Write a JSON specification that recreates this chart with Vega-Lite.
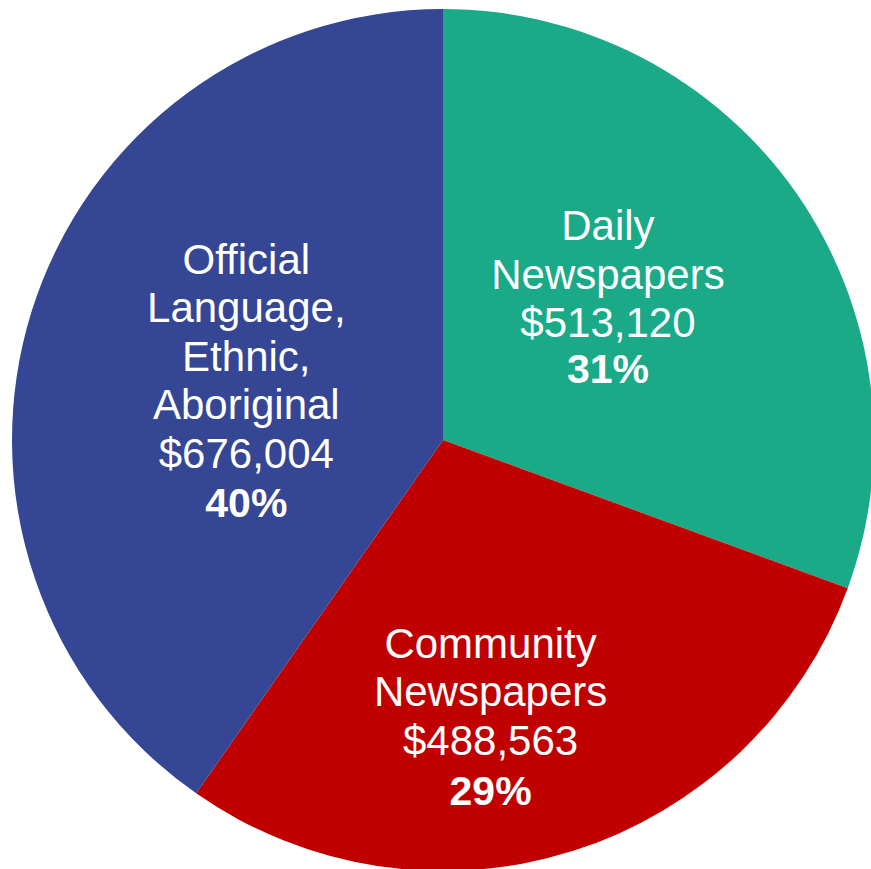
{
  "$schema": "https://vega.github.io/schema/vega-lite/v6.json",
  "width": 886,
  "height": 880,
  "autosize": "none",
  "padding": 0,
  "background": "white",
  "config": {"view": {"stroke": null}, "text": {"font": "Liberation Sans"}},
  "data": {
    "values": [
      {"category": "Daily Newspapers", "rank": 1, "value": 513120, "label": "Daily\nNewspapers\n\u00a0$513,120", "pct": "31%"},
      {"category": "Community Newspapers", "rank": 2, "value": 488563, "label": "Community\nNewspapers\n\u00a0$488,563", "pct": "29%"},
      {"category": "Official Language, Ethnic, Aboriginal", "rank": 3, "value": 676004, "label": "Official\nLanguage,\nEthnic,\nAboriginal\n\u00a0$676,004", "pct": "40%"}
    ]
  },
  "encoding": {
    "theta": {"field": "value", "type": "quantitative", "stack": true},
    "order": {"field": "rank", "type": "quantitative"},
    "detail": {"field": "category", "type": "nominal"}
  },
  "layer": [
    {
      "mark": {"type": "arc", "outerRadius": 431},
      "encoding": {
        "color": {
          "field": "category",
          "type": "nominal",
          "scale": {
            "domain": ["Daily Newspapers", "Community Newspapers", "Official Language, Ethnic, Aboriginal"],
            "range": ["#1AAA87", "#C00000", "#344694"]
          },
          "legend": null
        }
      }
    },
    {
      "mark": {"type": "text", "radius": 200, "dx": 1, "dy": -85, "fontSize": 42, "lineHeight": 48.5, "baseline": "alphabetic", "align": "center", "fill": "white", "lineBreak": "\n"},
      "encoding": {"text": {"condition": {"test": "datum.rank === 1", "field": "label", "type": "nominal"}, "value": ""}}
    },
    {
      "mark": {"type": "text", "radius": 200, "dx": 1, "dy": 58, "fontSize": 41, "baseline": "alphabetic", "align": "center", "fill": "white", "fontWeight": "bold"},
      "encoding": {"text": {"condition": {"test": "datum.rank === 1", "field": "pct", "type": "nominal"}, "value": ""}}
    },
    {
      "mark": {"type": "text", "radius": 325, "dx": -50, "dy": -92, "fontSize": 42, "lineHeight": 48.5, "baseline": "alphabetic", "align": "center", "fill": "white", "lineBreak": "\n"},
      "encoding": {"text": {"condition": {"test": "datum.rank === 2", "field": "label", "type": "nominal"}, "value": ""}}
    },
    {
      "mark": {"type": "text", "radius": 325, "dx": -50, "dy": 55, "fontSize": 41, "baseline": "alphabetic", "align": "center", "fill": "white", "fontWeight": "bold"},
      "encoding": {"text": {"condition": {"test": "datum.rank === 2", "field": "pct", "type": "nominal"}, "value": ""}}
    },
    {
      "mark": {"type": "text", "radius": 180, "dx": -25, "dy": -112, "fontSize": 42, "lineHeight": 48.5, "baseline": "alphabetic", "align": "center", "fill": "white", "lineBreak": "\n"},
      "encoding": {"text": {"condition": {"test": "datum.rank === 3", "field": "label", "type": "nominal"}, "value": ""}}
    },
    {
      "mark": {"type": "text", "radius": 180, "dx": -25, "dy": 131, "fontSize": 41, "baseline": "alphabetic", "align": "center", "fill": "white", "fontWeight": "bold"},
      "encoding": {"text": {"condition": {"test": "datum.rank === 3", "field": "pct", "type": "nominal"}, "value": ""}}
    }
  ]
}
